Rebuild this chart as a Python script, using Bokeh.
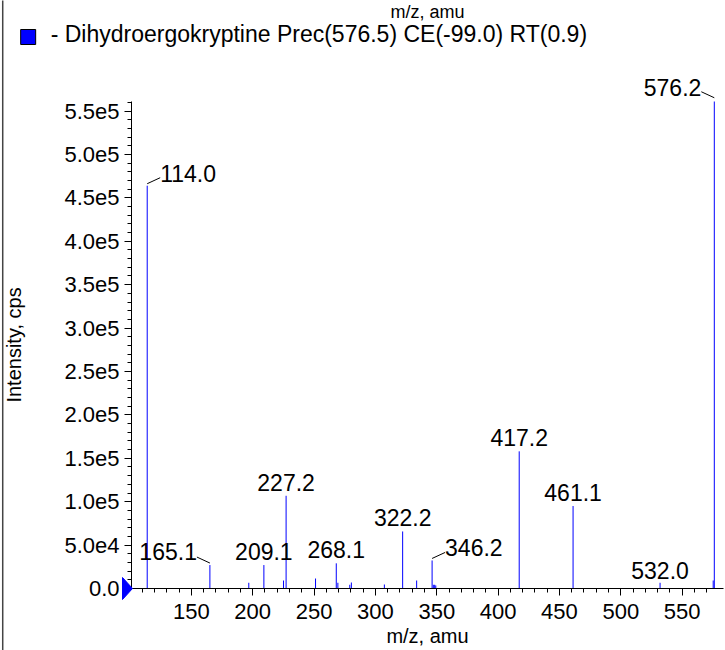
from bokeh.plotting import figure
from bokeh.models import Range1d, FixedTicker
from bokeh.core.properties import value
from bokeh.embed import file_html
from bokeh.resources import INLINE

# ---------------- data ----------------
peak_mz = [114.0, 165.1, 196.8, 209.1, 225.1, 227.2, 251.2, 268.1, 269.4,
           279.1, 280.4, 307.3, 322.2, 333.6, 346.2, 347.2, 348.3, 349.2,
           417.2, 461.1, 532.0, 575.3, 576.2]
peak_intensity = [4.64e5, 2.7e4, 6.6e3, 2.7e4, 9.2e3, 1.068e5, 1.15e4, 2.9e4, 6.6e3,
                  4.3e3, 6.9e3, 4.6e3, 6.57e4, 9.2e3, 3.23e4, 4.3e3, 4.3e3, 3.5e3,
                  1.58e5, 9.5e4, 6.6e3, 9.2e3, 5.63e5]

label_mz = [114.0, 165.1, 209.1, 227.2, 268.1, 322.2, 346.2, 417.2, 461.1, 532.0, 576.2]
label_text = ["114.0", "165.1", "209.1", "227.2", "268.1", "322.2", "346.2",
              "417.2", "461.1", "532.0", "576.2"]

x_ticks = [150, 200, 250, 300, 350, 400, 450, 500, 550]
y_ticks = [0, 50000, 100000, 150000, 200000, 250000, 300000, 350000,
           400000, 450000, 500000, 550000]
y_tick_labels = ["0.0", "5.0e4", "1.0e5", "1.5e5", "2.0e5", "2.5e5", "3.0e5",
                 "3.5e5", "4.0e5", "4.5e5", "5.0e5", "5.5e5"]

series_name = "- Dihydroergokryptine Prec(576.5) CE(-99.0) RT(0.9)"
x_title = "m/z, amu"
y_title = "Intensity, cps"

# ---------------- layout / style ----------------
x_start, x_end = 101.2, 583.7
y_start, y_end = 0, 561000
W, H = 725, 650
B_LEFT, B_RIGHT, B_TOP, B_BOTTOM = 130, 2, 101, 62
FONT = "Liberation Sans"
BLUE = "#0000ff"
TEXT_RAISE = 0.38   # em: correction of the text glyph's baseline placement

# label placement (pixels): alignment, horizontal offset, upward offset
label_align = ["left", "right", "center", "center", "center", "center", "left",
               "center", "center", "center", "right"]
label_dx = [13, -13, 0, 0, 0, 0, 13, 0, 0, 0, -13]
label_dy = [3, 5, 5, 5, 5, 5, 4, 5, 5, 4, 4]

frame_w = W - B_LEFT - B_RIGHT
frame_h = H - B_TOP - B_BOTTOM
mz_per_px = (x_end - x_start) / frame_w
cps_per_px = (y_end - y_start) / frame_h


def data_x(px):
    """canvas pixel column -> m/z"""
    return x_start + (px - B_LEFT) * mz_per_px


def data_y(py):
    """canvas pixel row -> intensity"""
    return y_end - (py - B_TOP) * cps_per_px


p = figure(width=W, height=H, output_backend="svg", toolbar_location=None,
           x_range=Range1d(x_start, x_end), y_range=Range1d(y_start, y_end),
           min_border_left=B_LEFT, min_border_right=B_RIGHT,
           min_border_top=B_TOP, min_border_bottom=B_BOTTOM,
           background_fill_color="white", border_fill_color="white")
p.outline_line_color = None
p.xgrid.visible = False
p.ygrid.visible = False

# panel border on the left edge
p.segment(x0=[data_x(1)], y0=[data_y(H)], x1=[data_x(1)], y1=[data_y(0)],
          line_color="#444444", line_width=1.5, level="overlay")

# peaks
p.segment(x0=peak_mz, y0=[0] * len(peak_mz), x1=peak_mz, y1=peak_intensity,
          line_color=BLUE, line_width=1)

# peak labels
LABEL_SIZE = 23
inten_of = dict(zip(peak_mz, peak_intensity))
for align in ["left", "right", "center"]:
    idx = [i for i, a in enumerate(label_align) if a == align]
    p.text(x=[label_mz[i] + label_dx[i] * mz_per_px for i in idx],
           y=[inten_of[label_mz[i]] + (label_dy[i] + TEXT_RAISE * LABEL_SIZE) * cps_per_px
              for i in idx],
           text=[label_text[i] for i in idx],
           text_align=align, text_baseline="alphabetic",
           text_font=value(FONT), text_font_size=f"{LABEL_SIZE}px", text_color="black",
           level="overlay")

# leader lines for offset labels
lx0, ly0, lx1, ly1 = [], [], [], []
for i, m in enumerate(label_mz):
    if label_dx[i] != 0:
        sgn = 1 if label_dx[i] > 0 else -1
        top = inten_of[m]
        lx0.append(m)
        ly0.append(top + 2 * cps_per_px)
        lx1.append(m + sgn * 13 * mz_per_px)
        ly1.append(top + 8 * cps_per_px)
p.segment(x0=lx0, y0=ly0, x1=lx1, y1=ly1, line_color="black", line_width=1,
          level="overlay")

# precursor triangle marker at the origin
p.patch(x=[x_start - 9 * mz_per_px, x_start + 1 * mz_per_px, x_start - 9 * mz_per_px],
        y=[11 * cps_per_px, 0, -11 * cps_per_px],
        fill_color=BLUE, line_color=BLUE, level="overlay")

# axis title of the panel above (at the top edge)
TOP_SIZE = 18
p.text(x=[(x_start + x_end) / 2], y=[data_y(18 - TEXT_RAISE * TOP_SIZE)], text=[x_title],
       text_align="center", text_baseline="alphabetic",
       text_font=value(FONT), text_font_size=f"{TOP_SIZE}px", text_color="black",
       level="overlay")

# legend swatch and series name
p.quad(left=[data_x(19)], right=[data_x(34)], top=[data_y(29)], bottom=[data_y(44)],
       fill_color=BLUE, line_color="black", line_width=1, level="overlay")
p.text(x=[data_x(49)], y=[data_y(42 - TEXT_RAISE * LABEL_SIZE)], text=[series_name],
       text_align="left", text_baseline="alphabetic",
       text_font=value(FONT), text_font_size=f"{LABEL_SIZE}px", text_color="black",
       level="overlay")

# axes
p.xaxis.ticker = FixedTicker(ticks=x_ticks, minor_ticks=list(range(110, 580, 10)))
p.yaxis.ticker = FixedTicker(ticks=y_ticks, minor_ticks=list(range(0, 561000, 10000)))
p.yaxis.major_label_overrides = dict(zip(y_ticks, y_tick_labels))
p.xaxis.axis_label = x_title
p.yaxis.axis_label = y_title
for ax in (p.xaxis[0], p.yaxis[0]):
    ax.axis_line_color = "black"
    ax.major_tick_line_color = "black"
    ax.minor_tick_line_color = "black"
    ax.major_tick_out = 7
    ax.major_tick_in = 0
    ax.minor_tick_out = 4
    ax.minor_tick_in = 0
    ax.major_label_text_font = FONT
    ax.major_label_text_font_size = "22px"
    ax.major_label_text_color = "black"
    ax.axis_label_text_font = FONT
    ax.axis_label_text_font_size = "20px"
    ax.axis_label_text_font_style = "normal"
    ax.axis_label_text_color = "black"
p.xaxis.major_label_standoff = 8
p.xaxis.axis_label_standoff = 3
p.yaxis.major_label_standoff = 5
p.yaxis.axis_label_standoff = 36

open("out.html", "w").write(file_html(p, INLINE))
